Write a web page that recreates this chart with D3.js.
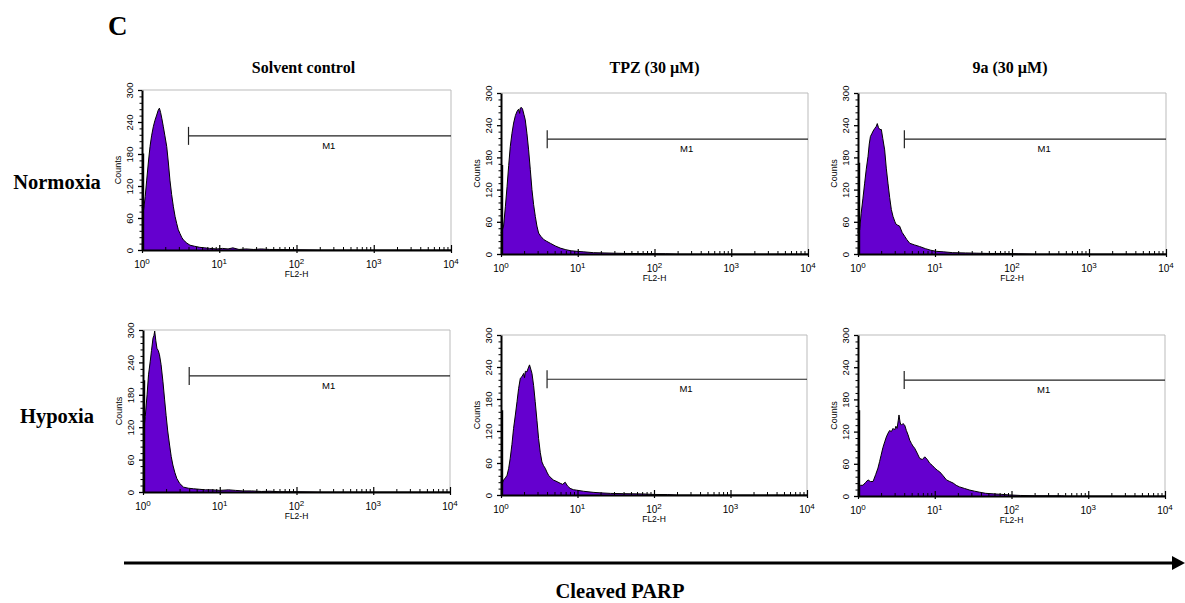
<!DOCTYPE html>
<html>
<head>
<meta charset="utf-8">
<script src="https://cdn.jsdelivr.net/npm/d3@7"></script>
<style>
  body { margin: 0; background: #fff; }
  svg { display: block; }
</style>
</head>
<body>
<svg id="figure" width="1185" height="603"></svg>
<script>
// ---- data ----
const columnTitles = ["Solvent control", "TPZ (30 µM)", "9a (30 µM)"];
const rowTitles = ["Normoxia", "Hypoxia"];
const countTicks = [0, 60, 120, 180, 240, 300];
const decadeTicks = [1, 10, 100, 1000, 10000];
const m1Start = 4;
const m1Levels = [214, 214, 214, 215, 217, 216];
const firstChannel = [181, 166, 170, 207, 159, 160];

// [FL2-H, counts]
const solventNormoxia = [[1.0, 80], [1.05, 76], [1.1, 100], [1.15, 131], [1.21, 165], [1.27, 194], [1.33, 214], [1.40, 231],
  [1.47, 243], [1.55, 253], [1.62, 262], [1.68, 266], [1.74, 258], [1.81, 246], [1.89, 231], [1.98, 214], [2.09, 194],
  [2.19, 165], [2.30, 131], [2.42, 104], [2.55, 81], [2.68, 63], [2.81, 50], [2.95, 38], [3.10, 31], [3.26, 24], [3.43, 19],
  [3.8, 13], [4.18, 9], [4.8, 7], [5.6, 5], [6.5, 4], [7.5, 3], [9.3, 2], [11, 3], [13, 2], [15, 4], [18, 1], [22, 2], [28, 1],
  [35, 2], [45, 1], [60, 1], [100, 0.5], [200, 0], [10000, 0]];

const tpzNormoxia = [[1.0, 39], [1.04, 45], [1.08, 52], [1.14, 88], [1.2, 126], [1.26, 165], [1.32, 200], [1.39, 225],
  [1.46, 244], [1.54, 258], [1.62, 266], [1.70, 270], [1.75, 262], [1.78, 272], [1.85, 273], [1.91, 270], [1.99, 260],
  [2.07, 250], [2.18, 224], [2.29, 194], [2.41, 157], [2.53, 120], [2.66, 92], [2.8, 70], [2.94, 52], [3.09, 39], [3.3, 33],
  [3.6, 27], [3.9, 24], [4.39, 20], [5.1, 15], [5.93, 11], [7, 8], [8.2, 6], [9.8, 5], [12, 4], [16, 2.5], [22, 2], [30, 1.5],
  [45, 1], [70, 0.8], [140, 0.5], [200, 0], [10000, 0]];

const compound9aNormoxia = [[1.0, 39], [1.03, 58], [1.05, 45], [1.1, 76], [1.16, 104], [1.22, 132], [1.28, 158], [1.35, 182],
  [1.40, 205], [1.45, 219], [1.51, 224], [1.57, 229], [1.65, 234], [1.73, 238], [1.78, 243], [1.84, 236], [1.92, 232],
  [2.01, 232], [2.1, 215], [2.22, 194], [2.33, 160], [2.45, 132], [2.58, 105], [2.71, 83], [2.85, 70], [3.0, 61], [3.1, 56],
  [3.25, 54], [3.47, 52], [3.75, 40], [4.04, 33], [4.3, 27], [4.7, 20], [5.4, 17], [6.3, 14], [7.5, 10], [8.8, 7], [10.4, 5],
  [13, 4], [17, 2.5], [25, 2], [35, 1.5], [50, 1], [80, 1], [120, 0.5], [200, 0], [10000, 0]];

const solventHypoxia = [[1.0, 142], [1.03, 118], [1.07, 140], [1.13, 180], [1.18, 217], [1.24, 241], [1.29, 262], [1.35, 285],
  [1.39, 290], [1.42, 298], [1.47, 280], [1.52, 266], [1.58, 262], [1.64, 254], [1.72, 236], [1.82, 204], [1.91, 172],
  [2.0, 142], [2.1, 113], [2.22, 87], [2.33, 66], [2.45, 50], [2.6, 36], [2.76, 25], [3.0, 16], [3.37, 9], [3.9, 7], [4.54, 6],
  [5.5, 5], [6.5, 4], [8, 4], [10, 3], [13, 4], [16, 3], [20, 2], [26, 2], [35, 1], [45, 1.5], [60, 0.5], [100, 0.5], [200, 0],
  [10000, 0]];

const tpzHypoxia = [[1.0, 25], [1.04, 22], [1.08, 28], [1.14, 32], [1.2, 37], [1.26, 50], [1.32, 69], [1.39, 95], [1.46, 125],
  [1.54, 150], [1.62, 175], [1.70, 200], [1.79, 219], [1.88, 222], [1.98, 228], [2.03, 220], [2.08, 232], [2.18, 231],
  [2.27, 238], [2.36, 244], [2.45, 236], [2.54, 228], [2.67, 205], [2.8, 175], [2.95, 140], [3.1, 106], [3.26, 80], [3.43, 62],
  [3.6, 55], [3.79, 50], [3.98, 43], [4.19, 37], [4.5, 32], [4.86, 28], [5.4, 25], [5.94, 22], [6.4, 20], [6.9, 24], [7.4, 17],
  [8, 12.5], [8.8, 10], [9.8, 9], [12, 7], [16, 5], [20, 4], [27, 3], [40, 2.5], [72, 2], [100, 1], [150, 0.8], [200, 0],
  [10000, 0]];

const compound9aHypoxia = [[1.0, 17], [1.08, 20], [1.16, 20], [1.25, 25], [1.35, 30], [1.45, 27], [1.57, 27], [1.7, 40],
  [1.82, 52], [1.91, 64], [2.0, 76], [2.11, 90], [2.23, 101], [2.34, 110], [2.46, 117], [2.58, 122], [2.72, 120], [2.86, 126],
  [3.0, 123], [3.12, 130], [3.23, 126], [3.34, 140], [3.42, 151], [3.55, 136], [3.67, 132], [3.85, 135], [4.06, 132],
  [4.27, 122], [4.49, 114], [4.72, 104], [4.96, 98], [5.2, 93], [5.48, 89], [5.9, 80], [6.37, 70], [6.9, 68], [7.41, 73],
  [8.0, 68], [8.6, 61], [9.3, 57], [10, 52], [10.8, 48], [11.6, 45], [12.8, 38], [14.2, 30], [15.7, 27], [17.4, 24], [19, 20],
  [21, 17], [24.5, 14], [28.6, 11], [33, 9], [38.6, 7], [46, 5], [57.6, 4], [75, 3], [95, 2], [130, 1], [200, 0.5], [450, 0.5],
  [500, 0], [10000, 0]];

// ---- layout ----
const panels = [
  { data: solventNormoxia,    x0: 142, x1: 451, y0: 90,  y1: 250 },
  { data: tpzNormoxia,        x0: 501, x1: 808, y0: 93,  y1: 254 },
  { data: compound9aNormoxia, x0: 858, x1: 1166, y0: 93, y1: 254 },
  { data: solventHypoxia,     x0: 143, x1: 450, y0: 330, y1: 492 },
  { data: tpzHypoxia,         x0: 501, x1: 807, y0: 335, y1: 495 },
  { data: compound9aHypoxia,  x0: 858, x1: 1165, y0: 335, y1: 496 }
];

const serif = "'Liberation Serif', 'Times New Roman', serif";
const sans = "'Liberation Sans', Arial, Helvetica, sans-serif";
const fillColor = "#6500cf";

const svg = d3.select("#figure");

// panel letter
svg.append("text")
  .attr("x", 108).attr("y", 35)
  .attr("font-family", serif).attr("font-weight", "bold").attr("font-size", 27)
  .text("C");

// column titles
svg.append("g")
  .selectAll("text")
  .data(columnTitles)
  .join("text")
  .attr("x", (d, i) => (panels[i].x0 + panels[i].x1) / 2 + [7, 0, -2][i])
  .attr("y", 73)
  .attr("text-anchor", "middle")
  .attr("font-family", serif).attr("font-weight", "bold").attr("font-size", 16)
  .text(d => d);

// row titles
svg.append("g")
  .selectAll("text")
  .data(rowTitles)
  .join("text")
  .attr("x", 57)
  .attr("y", (d, i) => [189, 423][i])
  .attr("text-anchor", "middle")
  .attr("font-family", serif).attr("font-weight", "bold").attr("font-size", 20.5)
  .text(d => d);

const minorDecade = [];
decadeTicks.slice(0, -1).forEach(dec => {
  [2, 3, 4, 5, 6, 7, 8, 9].forEach(m => minorDecade.push(dec * m));
});
const minorCounts = d3.range(0, 301, 12).filter(v => v % 60 != 0);

panels.forEach((p, i) => {
  const x = d3.scaleLog().domain([1, 10000]).range([p.x0, p.x1]);
  const y = d3.scaleLinear().domain([0, 300]).range([p.y1, p.y0]);
  const g = svg.append("g").attr("class", "panel");

  // light frame top + right
  g.append("path")
    .attr("d", `M${p.x0},${p.y0}H${p.x1}V${p.y1}`)
    .attr("fill", "none").attr("stroke", "#bbb").attr("stroke-width", 1);

  // histogram
  const area = d3.area()
    .x(d => x(d[0]))
    .y0(y(0))
    .y1(d => y(d[1]));
  const line = d3.line()
    .x(d => x(d[0]))
    .y(d => y(d[1]));

  g.append("path")
    .datum(p.data)
    .attr("fill", fillColor)
    .attr("d", area);
  g.append("path")
    .datum(p.data)
    .attr("fill", "none")
    .attr("stroke", "#000")
    .attr("stroke-width", 1)
    .attr("stroke-linejoin", "round")
    .attr("d", line);

  // spike at first channel
  g.append("line")
    .attr("x1", x(1) + 1.6).attr("x2", x(1) + 1.6)
    .attr("y1", y(0)).attr("y2", y(firstChannel[i]))
    .attr("stroke", "#000").attr("stroke-width", 1.2);

  // M1 marker
  const my = y(m1Levels[i]);
  g.append("line")
    .attr("x1", x(m1Start)).attr("x2", x(10000))
    .attr("y1", my).attr("y2", my)
    .attr("stroke", "#222").attr("stroke-width", 1.2);
  g.append("line")
    .attr("x1", x(m1Start)).attr("x2", x(m1Start))
    .attr("y1", my - 9).attr("y2", my + 9)
    .attr("stroke", "#222").attr("stroke-width", 1.2);
  g.append("text")
    .attr("x", x(Math.sqrt(m1Start * 10000)) + 9)
    .attr("y", my + 13)
    .attr("text-anchor", "middle")
    .attr("font-family", sans).attr("font-size", 9.5)
    .text("M1");

  // y axis
  const yAxis = g.append("g")
    .attr("transform", `translate(${p.x0},0)`)
    .call(d3.axisLeft(y).tickValues(countTicks).tickSize(4).tickSizeOuter(0));
  yAxis.select(".domain").attr("stroke-width", 2);
  yAxis.selectAll(".tick line").attr("stroke-width", 1.3);
  yAxis.selectAll(".tick text")
    .attr("transform", "rotate(-90)")
    .attr("text-anchor", "middle")
    .attr("x", 0).attr("y", -9.5).attr("dy", null)
    .attr("font-family", sans).attr("font-size", 9.5);
  g.append("g")
    .attr("transform", `translate(${p.x0},0)`)
    .call(d3.axisLeft(y).tickValues(minorCounts).tickSize(2.5).tickSizeOuter(0).tickFormat(""))
    .call(a => a.select(".domain").remove());

  g.append("text")
    .attr("transform", `translate(${p.x0 - 21},${(p.y0 + p.y1) / 2}) rotate(-90)`)
    .attr("text-anchor", "middle")
    .attr("font-family", sans).attr("font-size", 9)
    .text("Counts");

  // x axis
  const xAxis = g.append("g")
    .attr("transform", `translate(0,${p.y1})`)
    .call(d3.axisBottom(x).tickValues(decadeTicks).tickSize(3).tickSizeOuter(0).tickFormat(""));
  xAxis.select(".domain").attr("stroke-width", 2);
  xAxis.selectAll(".tick line").attr("y1", -5).attr("stroke-width", 1.2);
  g.append("g")
    .attr("transform", `translate(0,${p.y1})`)
    .call(d3.axisTop(x).tickValues(minorDecade).tickSize(3).tickSizeOuter(0).tickFormat(""))
    .call(a => a.select(".domain").remove());

  const labels = g.append("g")
    .selectAll("text")
    .data(decadeTicks)
    .join("text")
    .attr("x", d => x(d))
    .attr("y", p.y1 + 18)
    .attr("text-anchor", "middle")
    .attr("font-family", sans).attr("font-size", 10);
  labels.append("tspan").text("10");
  labels.append("tspan")
    .attr("dy", -4.5)
    .attr("font-size", 8)
    .text(d => Math.round(Math.log10(d)));

  g.append("text")
    .attr("x", (p.x0 + p.x1) / 2)
    .attr("y", p.y1 + 27)
    .attr("text-anchor", "middle")
    .attr("font-family", sans).attr("font-size", 8.5)
    .text("FL2-H");
});

// bottom arrow
svg.append("line")
  .attr("x1", 124).attr("x2", 1174)
  .attr("y1", 563).attr("y2", 563)
  .attr("stroke", "#000").attr("stroke-width", 3);
svg.append("path")
  .attr("d", "M1172,556 L1185,563 L1172,570 Z")
  .attr("fill", "#000");
svg.append("text")
  .attr("x", 620).attr("y", 598)
  .attr("text-anchor", "middle")
  .attr("font-family", serif).attr("font-weight", "bold").attr("font-size", 20.5)
  .text("Cleaved PARP");
</script>
</body>
</html>
